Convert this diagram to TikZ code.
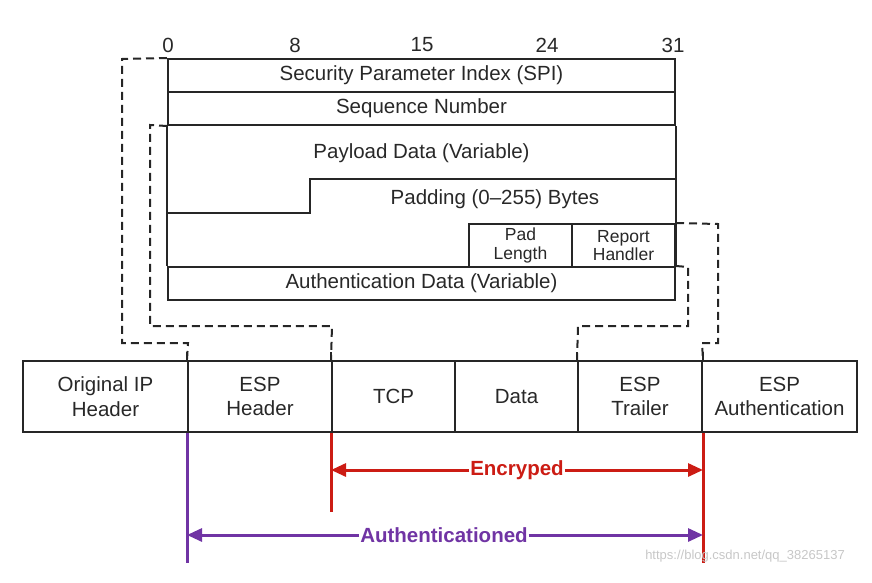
\documentclass[tikz,border=0pt]{standalone}
\usepackage{fontspec}
\setmainfont{Liberation Sans}
\usetikzlibrary{arrows.meta}
\definecolor{encred}{RGB}{204,28,20}
\definecolor{authpurple}{RGB}{112,52,164}
\definecolor{txtgray}{RGB}{40,40,40}
\begin{document}
\begin{tikzpicture}[x=1pt,y=1pt,
  box/.style={draw=black!85, line width=2pt, inner sep=0pt, text=txtgray,
    font=\fontsize{20.5}{24.5}\selectfont, align=center},
  field/.style={box, minimum width=507pt, minimum height=33pt},
  cell/.style={box, minimum height=71pt},
  small/.style={box, minimum width=103pt, minimum height=43pt,
    font=\fontsize{17.5}{18.5}\selectfont},
  lbl/.style={inner sep=0pt, text=txtgray, font=\fontsize{20.5}{24.5}\selectfont},
  solid line/.style={draw=black!85, line width=2pt},
  dash line/.style={draw=black!85, line width=2pt, dash pattern=on 8pt off 5pt},
  encline/.style={draw=encred, line width=3pt},
  authline/.style={draw=authpurple, line width=3pt},
  tipstyle/.style={-{Triangle[length=15pt,width=13pt]}},
]
\useasboundingbox (0,0) rectangle (872,-583);

% bit numbers
\node[lbl] (b0)  at (168,-45) {0};
\node[lbl] (b8)  at (295,-45) {8};
\node[lbl] (b15) at (422,-45) {15};
\node[lbl] (b24) at (547,-45) {24};
\node[lbl] (b31) at (673,-45) {31};

% ESP header fields
\node[field] (spi)  at (421.5,-75.5)  {Security Parameter Index (SPI)};
\node[field] (seq)  at (421.5,-108.5) {Sequence Number};
\node[field] (auth) at (421.5,-283.5) {Authentication Data (Variable)};
\node[small] (pad)  at (520.5,-245.5) {Pad\\Length};
\node[small] (rep)  at (623.5,-245.5) {Report\\Handler};
\draw[solid line] (seq.south west) -- (auth.north west);
\draw[solid line] (seq.south east) -- (auth.north east);
\coordinate (stepA) at (168,-213);
\coordinate (stepB) at (310,-213);
\coordinate (stepC) at (310,-179);
\coordinate (stepD) at (675,-179);
\draw[solid line] (stepA) -- (stepB) -- (stepC) -- (stepD);
\node[lbl] (payload) at (421.5,-153) {Payload Data (Variable)};
\node[lbl] (padding) at (495,-199) {Padding (0–255) Bytes};

% packet cells
\node[cell, minimum width=165pt] (oip)  at (105.5,-396.5) {Original IP\\Header};
\node[cell, minimum width=144pt] (esph) at (260,-396.5)   {ESP\\Header};
\node[cell, minimum width=123pt] (tcp)  at (393.5,-396.5) {TCP};
\node[cell, minimum width=123pt] (data) at (516.5,-396.5) {Data};
\node[cell, minimum width=124pt] (trl)  at (640,-396.5)   {ESP\\Trailer};
\node[cell, minimum width=155pt] (espa) at (779.5,-396.5) {ESP\\Authentication};
\draw[solid line] (esph.north west) -- ++(0,8);
\draw[solid line] (tcp.north west) -- ++(0,8);
\draw[solid line] (trl.north west) -- ++(0,8);
\draw[solid line] (trl.north east) -- ++(0,8);

% dashed mapping lines
\draw[dash line] (spi.north west) -- (122,-59) -- (122,-343) -- (188,-343) -- (esph.north west);
\draw[dash line] (seq.south west) -- (150,-125) -- (150,-326) -- (332,-326) -- (tcp.north west);
\draw[dash line] (auth.north east) -- (688,-267) -- (688,-326) -- (578,-326) -- (trl.north west);
\draw[dash line] (rep.north east) -- (718,-224) -- (718,-343) -- (702,-343) -- (trl.north east);

% encrypted / authenticated ranges
\draw[encline] (tcp.south west) -- ++(0,-79);
\draw[encline] (trl.south east) -- ++(0,-130);
\draw[authline] (esph.south west) -- ++(0,-130);
\node[inner sep=1pt, fill=white, text=encred, font=\bfseries\fontsize{20.5}{24}\selectfont]
  (enc) at (517,-470) {Encryped};
\node[inner sep=1pt, fill=white, text=authpurple, font=\bfseries\fontsize{20.5}{24}\selectfont]
  (authd) at (444,-535) {Authenticationed};
\draw[encline, tipstyle] (enc.west) -- (tcp.south west |- enc.west);
\draw[encline, tipstyle] (enc.east) -- (trl.south east |- enc.east);
\draw[authline, tipstyle] (authd.west) -- (esph.south west |- authd.west);
\draw[authline, tipstyle] (authd.east) -- (trl.south east |- authd.east);

% watermark
\node[inner sep=0pt, text=black!22, font=\fontsize{13}{15}\selectfont] (wm) at (745,-556) {https://blog.csdn.net/qq\_38265137};
\end{tikzpicture}
\end{document}
